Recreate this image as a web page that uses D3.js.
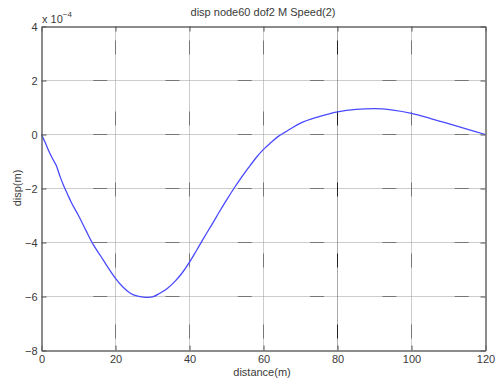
<!DOCTYPE html>
<html>
<head>
<meta charset="utf-8">
<script src="https://cdn.jsdelivr.net/npm/d3@7"></script>
<style>
  body { margin: 0; background: #fff; }
  text { font-family: "Liberation Sans", Arial, sans-serif; fill: #3a3a3a; }
</style>
</head>
<body>
<div id="chart"></div>
<script>
// distance (m) and displacement (x 1e-4 m)
const distance = [0, 1, 2, 3, 4, 5, 6, 7, 8, 10, 12, 14, 16, 18, 20, 22, 24, 26, 28, 30, 32, 34, 36, 38, 40,
  42, 44, 46, 48, 50, 52, 54, 56, 58, 60, 62, 64, 66, 68, 70, 75, 80, 85, 90, 95, 100, 105, 110, 115, 120];
const disp = [0, -0.3, -0.62, -0.9, -1.15, -1.55, -1.9, -2.2, -2.5, -3.0, -3.55, -4.08, -4.5, -4.93, -5.33, -5.65, -5.88, -5.99, -6.03, -6.01, -5.88, -5.7, -5.45, -5.13, -4.73,
  -4.27, -3.8, -3.35, -2.88, -2.43, -2.0, -1.6, -1.22, -0.86, -0.55, -0.3, -0.07, 0.1, 0.27, 0.42, 0.66, 0.84, 0.93, 0.955, 0.9, 0.78, 0.6, 0.4, 0.2, 0];
const xTicks = [0, 20, 40, 60, 80, 100, 120];
const yTicks = [-8, -6, -4, -2, 0, 2, 4];

const width = 500, height = 382;
const margin = {top: 26.5, right: 14.5, bottom: 31.5, left: 41.5};

const svg = d3.select("#chart").append("svg")
  .attr("width", width)
  .attr("height", height);

const x = d3.scaleLinear().domain([0, 120]).range([margin.left, width - margin.right]);
const y = d3.scaleLinear().domain([-8, 4]).range([height - margin.bottom, margin.top]);

const x0 = x.range()[0], x1 = x.range()[1];
const y0 = y.range()[0], y1 = y.range()[1];

// grid: fine dotted lines with darker dashes
const grid = svg.append("g");
grid.selectAll(".hgrid")
  .data(yTicks.slice(1, -1))
  .join("line")
    .attr("x1", x0).attr("x2", x1)
    .attr("y1", d => y(d)).attr("y2", d => y(d))
    .attr("stroke", "#999")
    .attr("stroke-dasharray", "1,1");
grid.selectAll(".hdash")
  .data(yTicks.slice(1, -1))
  .join("line")
    .attr("x1", x0).attr("x2", x1)
    .attr("y1", d => y(d)).attr("y2", d => y(d))
    .attr("stroke", "#777")
    .attr("stroke-dasharray", "14,58.3")
    .attr("stroke-dashoffset", -51.7);
grid.selectAll(".vgrid")
  .data(xTicks.slice(1, -1))
  .join("line")
    .attr("x1", d => x(d)).attr("x2", d => x(d))
    .attr("y1", y1).attr("y2", y0)
    .attr("stroke", d => d === 80 ? "#555" : "#999")
    .attr("stroke-dasharray", "1,1");
grid.selectAll(".vdash")
  .data(xTicks.slice(1, -1))
  .join("line")
    .attr("x1", d => x(d)).attr("x2", d => x(d))
    .attr("y1", y1).attr("y2", y0)
    .attr("stroke", d => d === 80 ? "#222" : "#777")
    .attr("stroke-dasharray", "14,57")
    .attr("stroke-dashoffset", -14);

// the curve
svg.append("path")
  .datum(distance.map((d, i) => [d, disp[i]]))
  .attr("fill", "none")
  .attr("stroke", "#4a4aff")
  .attr("stroke-width", 1.3)
  .attr("stroke-linejoin", "round")
  .attr("d", d3.line()
    .x(d => x(d[0]))
    .y(d => y(d[1]))
    .curve(d3.curveMonotoneX));

// axes, MATLAB style: ticks inward on all four sides
const tickLen = 5;
svg.append("g")
  .attr("transform", `translate(0,${y0})`)
  .call(d3.axisBottom(x).tickValues(xTicks).tickSize(-tickLen).tickPadding(6).tickSizeOuter(0))
  .call(g => g.selectAll("text").attr("font-size", 11).attr("dy", "0.55em"));
svg.append("g")
  .attr("transform", `translate(0,${y1})`)
  .call(d3.axisTop(x).tickValues(xTicks).tickSize(-tickLen).tickFormat("").tickSizeOuter(0));
svg.append("g")
  .attr("transform", `translate(${x0},0)`)
  .call(d3.axisLeft(y).tickValues(yTicks).tickSize(-tickLen).tickPadding(4).tickSizeOuter(0))
  .call(g => g.selectAll("text").attr("font-size", 11));
svg.append("g")
  .attr("transform", `translate(${x1},0)`)
  .call(d3.axisRight(y).tickValues(yTicks).tickSize(-tickLen).tickFormat("").tickSizeOuter(0));

svg.selectAll(".domain").attr("stroke", "#666").attr("stroke-width", 1.5);
svg.selectAll(".tick line").attr("stroke", "#555");

// labels
svg.append("text")
  .attr("x", 263).attr("y", 16)
  .attr("text-anchor", "middle")
  .attr("font-size", 11)
  .text("disp node60 dof2 M Speed(2)");

svg.append("text")
  .attr("x", 262).attr("y", 376)
  .attr("text-anchor", "middle")
  .attr("font-size", 11)
  .text("distance(m)");

svg.append("text")
  .attr("transform", "translate(21,188) rotate(-90)")
  .attr("text-anchor", "middle")
  .attr("font-size", 11)
  .text("disp(m)");

const expo = svg.append("text")
  .attr("x", 42).attr("y", 23)
  .attr("font-size", 11);
expo.append("tspan").text("x 10");
expo.append("tspan").attr("dy", -6).attr("font-size", 8).text("\u22124");
</script>
</body>
</html>
